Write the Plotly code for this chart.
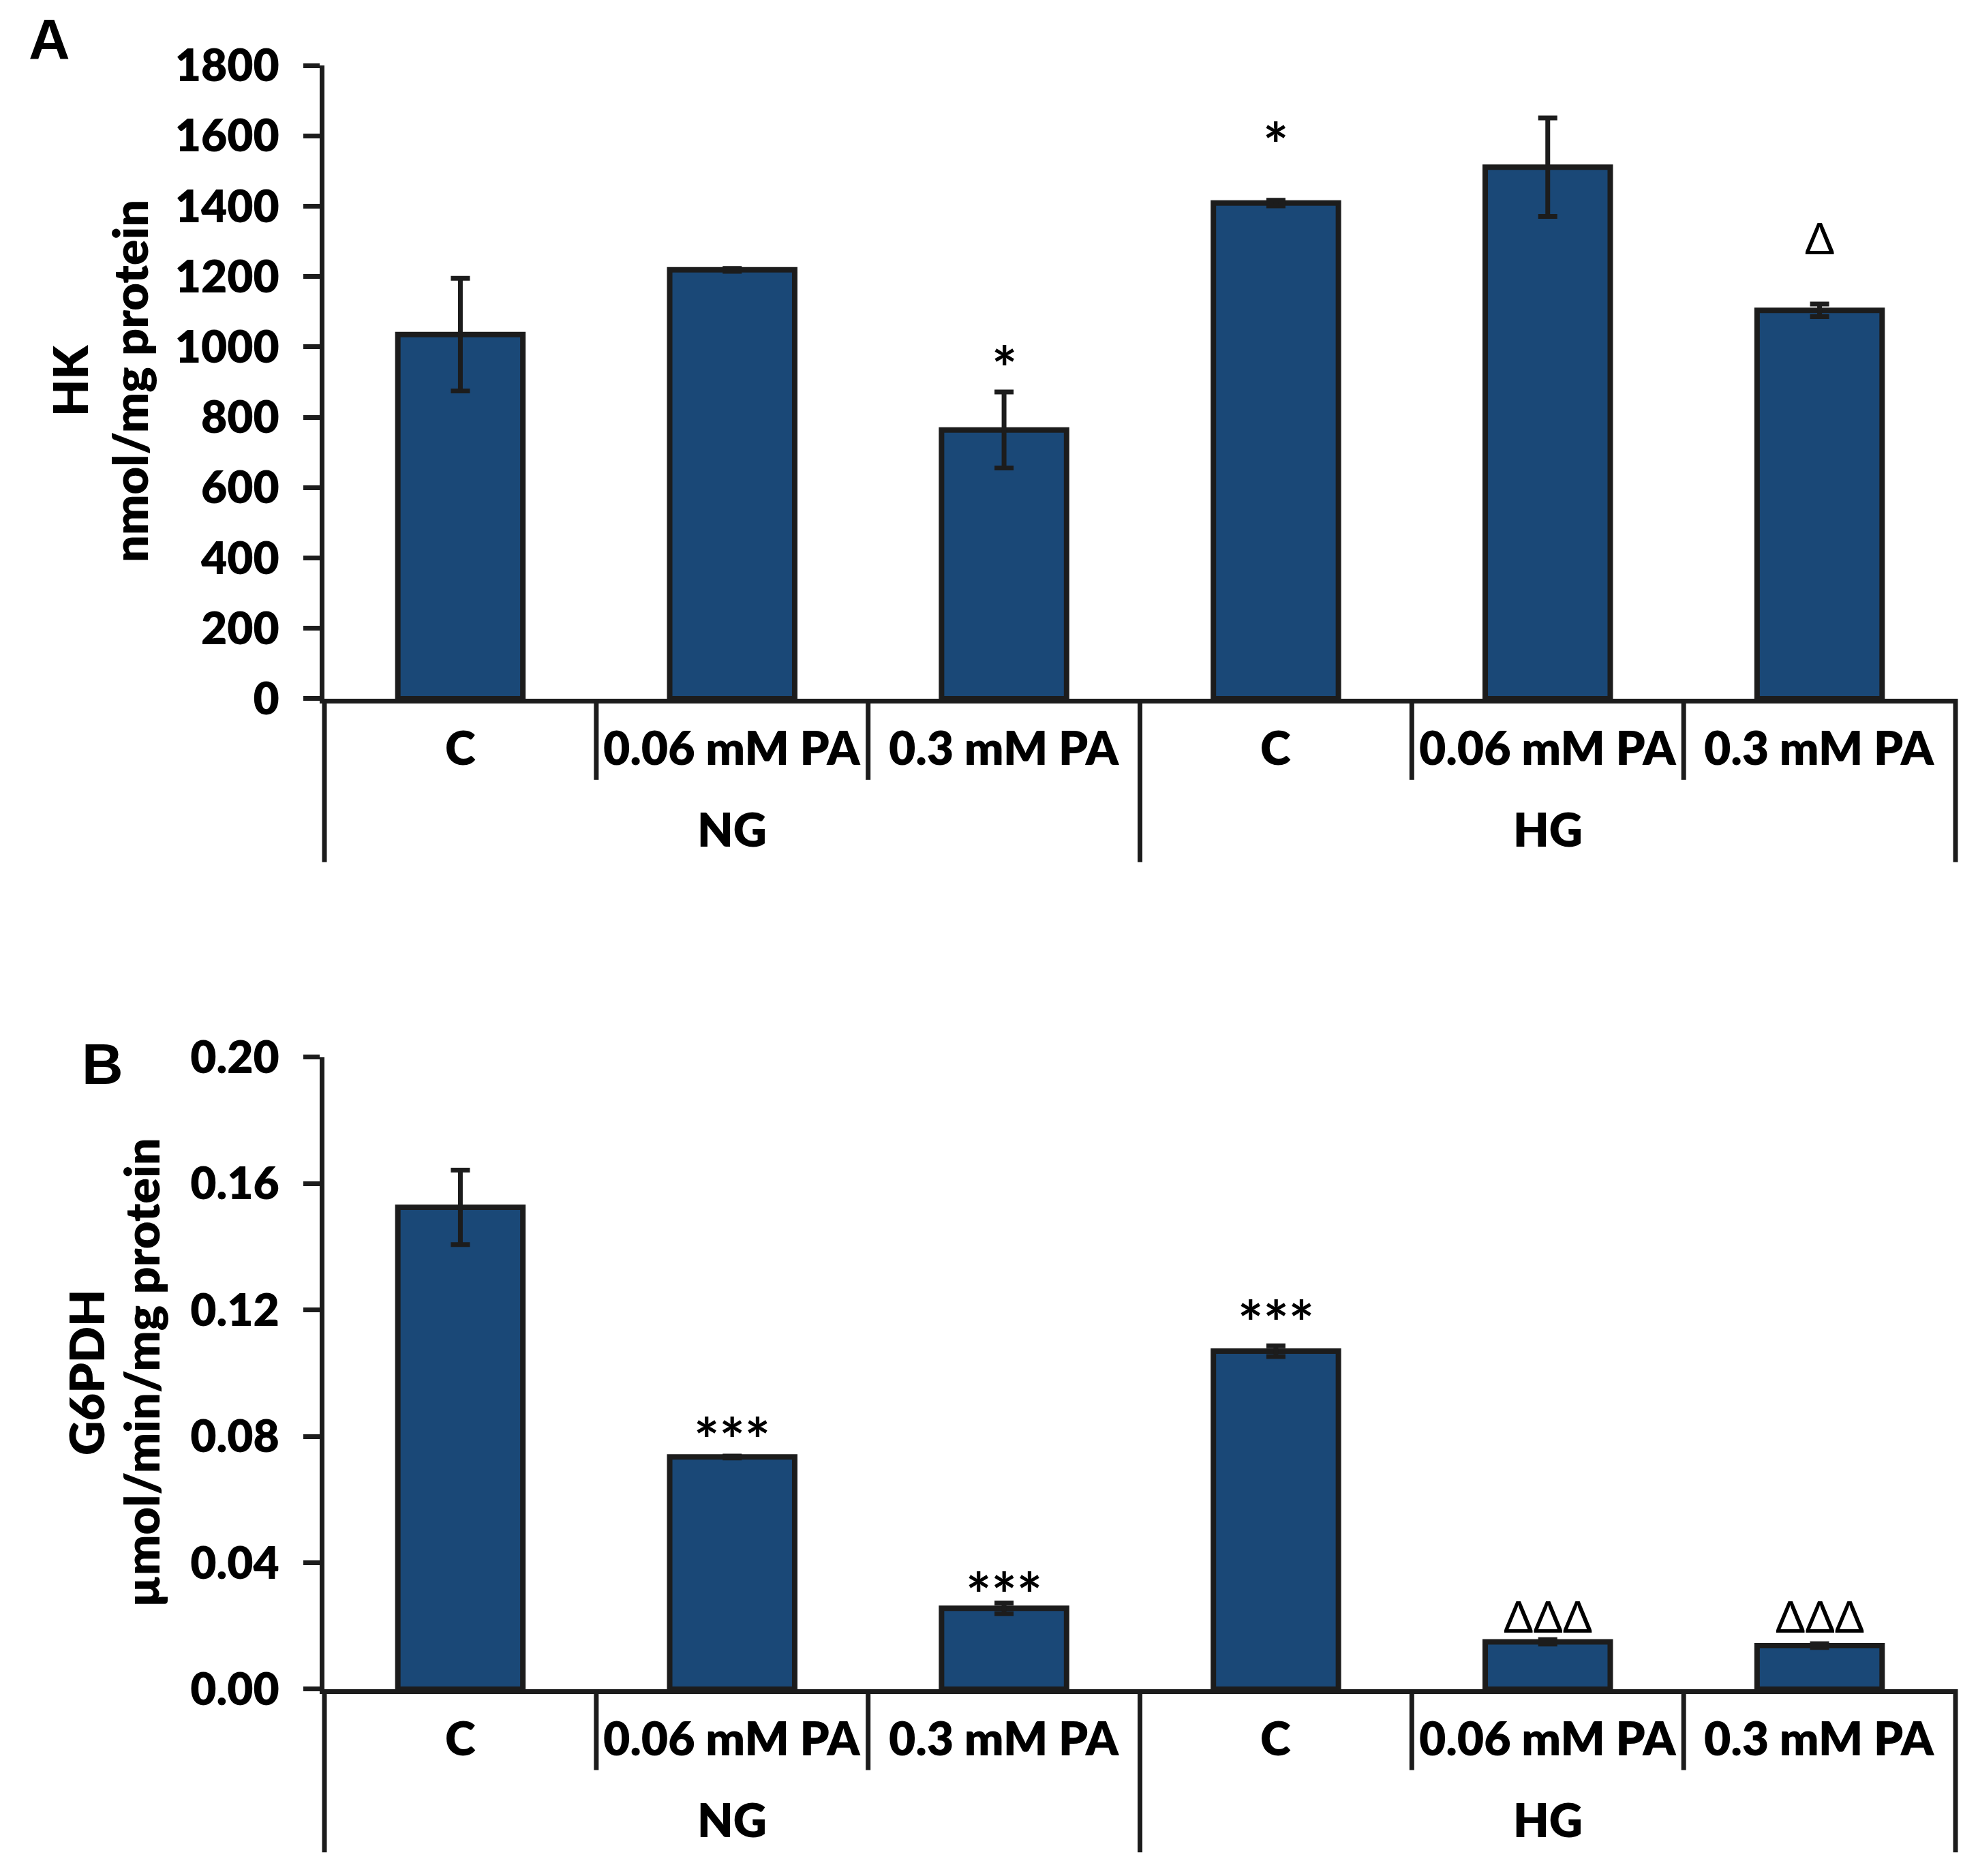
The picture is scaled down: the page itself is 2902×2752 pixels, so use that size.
import plotly.graph_objects as go

# ---------------- data ----------------
categories = ["C", "0.06 mM PA", "0.3 mM PA", "C", "0.06 mM PA", "0.3 mM PA"]
groups = ["NG", "HG"]
group_size = 3

hk_values = [1035, 1219, 764, 1409, 1511, 1104]
hk_errors = [160, 4, 108, 8, 140, 18]
hk_marks = ["", "", "*", "*", "", "Δ"]
hk_mark_y = [None, None, 985, 1620, None, 1310]

g6pdh_values = [0.1525, 0.0735, 0.0256, 0.1070, 0.0150, 0.0138]
g6pdh_errors = [0.0118, 0.0003, 0.0017, 0.0017, 0.0007, 0.0006]
g6pdh_marks = ["", "***", "***", "***", "ΔΔΔ", "ΔΔΔ"]
g6pdh_mark_y = [None, 0.0840, 0.0350, 0.1210, 0.0231, 0.0231]

hk_ticks = [0, 200, 400, 600, 800, 1000, 1200, 1400, 1600, 1800]
g6pdh_ticks = [0.00, 0.04, 0.08, 0.12, 0.16, 0.20]
g6pdh_ticktext = ["0.00", "0.04", "0.08", "0.12", "0.16", "0.20"]

# ---------------- style ----------------
FONT = "Lato"
WEIGHT = 800
BAR = "#1a4877"
INK = "#1c1c1c"
LW = 7
FS_TICK = 66
FS_CAT = 68
FS_TITLE = 70
FS_STAR = 88
FS_DELTA = 64

# page offset (browser body margin) and figure size
OFF = 8
W, H = 2902 - OFF, 2752 - OFF
L, R, T, Bm = 476 - OFF, 33, 96 - OFF, 274
pw, ph = W - L - R, H - T - Bm


def px_x(xpx):
    return (xpx - OFF - L) / pw


def px_y(ypx):
    return (H - Bm - (ypx - OFF)) / ph


x_idx = list(range(len(categories)))
n = len(categories)

fig = go.Figure()

for vals, errs, xa, ya in [(hk_values, hk_errors, "x", "y"),
                           (g6pdh_values, g6pdh_errors, "x2", "y2")]:
    fig.add_trace(go.Bar(
        x=x_idx, y=vals, xaxis=xa, yaxis=ya, width=0.46,
        marker=dict(color=BAR, line=dict(color=INK, width=8)),
        error_y=dict(type="data", array=errs, visible=True,
                     color=INK, thickness=7, width=14),
        showlegend=False, hoverinfo="skip",
    ))

tickfont = dict(family=FONT, size=FS_TICK, weight=WEIGHT, color="black")
fig.update_layout(
    width=W, height=H,
    margin=dict(l=L, r=R, t=T, b=Bm),
    paper_bgcolor="white", plot_bgcolor="white",
    font=dict(family=FONT, size=FS_TICK, color="black"),
    xaxis=dict(domain=[0, 1], range=[-0.5, n - 0.5], anchor="y",
               showline=True, linewidth=LW, linecolor=INK,
               showticklabels=False, ticks="", showgrid=False, zeroline=False),
    yaxis=dict(domain=[0.610, 1], range=[0, 1800], anchor="x",
               tickvals=hk_ticks, showline=True, linewidth=LW, linecolor=INK,
               ticks="outside", ticklen=24, tickwidth=LW, tickcolor=INK,
               tickfont=tickfont, ticklabelstandoff=22,
               showgrid=False, zeroline=False),
    xaxis2=dict(domain=[0, 1], range=[-0.5, n - 0.5], anchor="y2",
                showline=True, linewidth=LW, linecolor=INK,
                showticklabels=False, ticks="", showgrid=False, zeroline=False),
    yaxis2=dict(domain=[0, 0.3892], range=[0, 0.2], anchor="x2",
                tickvals=g6pdh_ticks, ticktext=g6pdh_ticktext,
                showline=True, linewidth=LW, linecolor=INK,
                ticks="outside", ticklen=24, tickwidth=LW, tickcolor=INK,
                tickfont=tickfont, ticklabelstandoff=22,
                showgrid=False, zeroline=False),
)

shapes = []
annotations = []
for xa, ya, marks, mark_y in [("x", "y", hk_marks, hk_mark_y),
                              ("x2", "y2", g6pdh_marks, g6pdh_mark_y)]:
    # separators under the axis
    for b in range(n + 1):
        xb = b / n
        long_line = (b % group_size == 0)
        shapes.append(dict(type="line", xref=xa + " domain", yref=ya + " domain",
                           x0=xb, x1=xb, y0=0, y1=(-0.258 if long_line else -0.128),
                           line=dict(color=INK, width=LW)))
    # category labels
    for i, c in enumerate(categories):
        annotations.append(dict(x=i, y=-0.076, xref=xa, yref=ya + " domain",
                                text=c, showarrow=False, yanchor="middle",
                                font=dict(family=FONT, size=FS_CAT, weight=WEIGHT)))
    # group labels
    for g_i, g in enumerate(groups):
        cx = g_i * group_size + (group_size - 1) / 2
        annotations.append(dict(x=cx, y=-0.205, xref=xa, yref=ya + " domain",
                                text=g, showarrow=False, yanchor="middle",
                                font=dict(family=FONT, size=FS_CAT, weight=WEIGHT)))
    # significance marks
    for i, (m, my) in enumerate(zip(marks, mark_y)):
        if m:
            is_delta = "Δ" in m
            annotations.append(dict(x=i, y=my, xref=xa, yref=ya, text=m,
                                    showarrow=False, yanchor="middle",
                                    yshift=(0 if is_delta else -22),
                                    font=dict(family=FONT,
                                              size=(FS_DELTA if is_delta else FS_STAR),
                                              weight=(400 if is_delta else 700))))

# axis titles and panel letters (pixel positions on the page)
titles = [
    ("HK", 102, 559, FS_TITLE, FONT),
    ("nmol/mg protein", 190, 559, FS_TITLE, FONT),
    ("G6PDH", 126, 2014, FS_TITLE, FONT),
    ("µmol/min/mg protein", 207, 2014, FS_TITLE, FONT),
]
for txt, xp, yp, fs, fam in titles:
    annotations.append(dict(x=px_x(xp), y=px_y(yp), xref="paper", yref="paper",
                            text=txt, textangle=-90, showarrow=False,
                            xanchor="center", yanchor="middle",
                            font=dict(family=fam, size=fs, weight=WEIGHT)))
for txt, xp, yp in [("A", 72, 58), ("B", 150, 1561)]:
    annotations.append(dict(x=px_x(xp), y=px_y(yp), xref="paper", yref="paper",
                            text=txt, showarrow=False,
                            xanchor="center", yanchor="middle",
                            font=dict(family="Liberation Sans", size=84, weight="bold")))

fig.update_layout(shapes=shapes, annotations=annotations)

fig.write_html("out.html")
